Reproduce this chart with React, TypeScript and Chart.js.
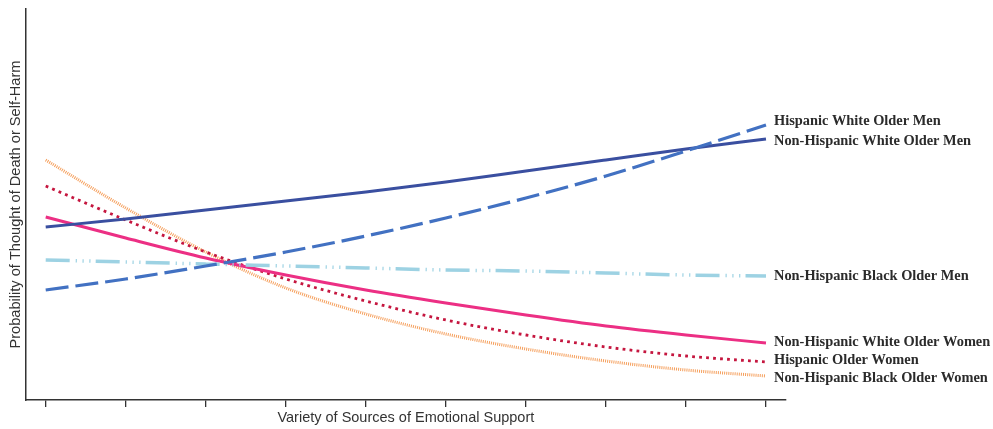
import React, { useEffect, useRef } from "react";
import { Chart, registerables } from "chart.js";

Chart.register(...registerables);

const xValues = [0, 1, 2, 3, 4, 5, 6, 7, 8, 9];
// Predicted probability (relative units)
const hispWhiteMen = [0.110, 0.121, 0.134, 0.148, 0.164, 0.182, 0.202, 0.224, 0.249, 0.275];
const nhWhiteMen = [0.173, 0.181, 0.190, 0.199, 0.208, 0.218, 0.229, 0.240, 0.251, 0.261];
const nhBlackMen = [0.140, 0.138, 0.136, 0.134, 0.132, 0.130, 0.129, 0.127, 0.125, 0.124];
const nhWhiteWomen = [0.183, 0.162, 0.142, 0.125, 0.110, 0.097, 0.085, 0.074, 0.065, 0.057];
const hispWomen = [0.214, 0.180, 0.148, 0.121, 0.099, 0.080, 0.065, 0.053, 0.044, 0.038];
const nhBlackWomen = [0.240, 0.192, 0.148, 0.112, 0.086, 0.066, 0.051, 0.039, 0.030, 0.024];

const seriesNames = [
  "Hispanic White Older Men",
  "Non-Hispanic White Older Men",
  "Non-Hispanic Black Older Men",
  "Non-Hispanic White Older Women",
  "Hispanic Older Women",
  "Non-Hispanic Black Older Women",
];
const labelOffsets = [-4, 2, 0, -1, -2, 2];

const yTitle = "Probability of Thought of Death or Self-Harm";
const xTitle = "Variety of Sources of Emotional Support";

export default function App() {
  const ref = useRef<HTMLCanvasElement | null>(null);
  useEffect(() => {
    if (!ref.current) return;
    const mk = (d: number[]) => d.map((v, i) => ({ x: xValues[i], y: v }));
    const labelPlugin = {
      id: "endLabels",
      afterDatasetsDraw(chart: any) {
        const ctx = chart.ctx;
        const xs = chart.scales.x;
        const ys = chart.scales.y;
        ctx.save();
        ctx.font = "bold 14.4px 'Liberation Serif', 'Times New Roman', serif";
        ctx.fillStyle = "#2b2b2b";
        ctx.textBaseline = "middle";
        ctx.textAlign = "left";
        chart.data.datasets.forEach((ds: any, i: number) => {
          const last = ds.data[ds.data.length - 1];
          const px = xs.getPixelForValue(last.x) + 8;
          const py = ys.getPixelForValue(last.y) + labelOffsets[i];
          ctx.fillText(seriesNames[i], px, py);
        });
        ctx.restore();
      },
    };
    const common = {
      fill: false,
      pointRadius: 0,
      cubicInterpolationMode: "monotone" as const,
      borderCapStyle: "butt" as const,
    };
    const chart = new Chart(ref.current, {
      type: "line",
      data: {
        datasets: [
          { ...common, label: seriesNames[0], data: mk(hispWhiteMen), borderColor: "#4271c2", borderWidth: 3.2, borderDash: [23, 7] },
          { ...common, label: seriesNames[1], data: mk(nhWhiteMen), borderColor: "#3a4fa0", borderWidth: 3 },
          { ...common, label: seriesNames[2], data: mk(nhBlackMen), borderColor: "#9dd2e3", borderWidth: 3.5, borderDash: [24, 6, 1.2, 5.6, 1.2, 5.6, 1.2, 5.2] },
          { ...common, label: seriesNames[3], data: mk(nhWhiteWomen), borderColor: "#ec2f84", borderWidth: 3 },
          { ...common, label: seriesNames[4], data: mk(hispWomen), borderColor: "#c5163f", borderWidth: 2.8, borderDash: [2.8, 4.2] },
          { ...common, label: seriesNames[5], data: mk(nhBlackWomen), borderColor: "#f59f5c", borderWidth: 3, borderDash: [1, 1.1] },
        ],
      },
      options: {
        animation: false,
        responsive: false,
        maintainAspectRatio: false,
        layout: { padding: { left: 0, top: 9, right: 207, bottom: 0 } },
        plugins: { legend: { display: false }, tooltip: { enabled: false } },
        scales: {
          x: {
            type: "linear",
            min: -0.25,
            max: 9.25,
            afterBuildTicks: (s: any) => {
              s.ticks = xValues.map((v) => ({ value: v }));
            },
            afterFit: (s: any) => {
              s.height = 29;
            },
            ticks: { display: true, callback: () => "", font: { size: 1 }, padding: 0 },
            grid: { drawOnChartArea: false, drawTicks: true, tickLength: 7, color: "#333", lineWidth: 1.3 },
            border: { display: true, color: "#333", width: 1.5 },
            title: {
              display: true,
              text: xTitle,
              color: "#333",
              font: { family: "'Liberation Sans', Arial, sans-serif", size: 14.5 },
              padding: { top: 0, bottom: 2 },
            },
          },
          y: {
            type: "linear",
            min: 0,
            max: 0.391,
            afterFit: (s: any) => {
              s.width = 25.7;
            },
            ticks: { display: false },
            grid: { display: false },
            border: { display: true, color: "#333", width: 1.5 },
            title: {
              display: true,
              text: yTitle,
              color: "#333",
              font: { family: "'Liberation Sans', Arial, sans-serif", size: 14.6 },
              padding: { top: 7, bottom: 0 },
            },
          },
        },
      },
      plugins: [labelPlugin],
    });
    return () => chart.destroy();
  }, []);
  return (
    <div style={{ position: "fixed", left: 0, top: 0, width: 993, height: 429, background: "#fff" }}>
      <canvas ref={ref} width={993} height={429} style={{ width: 993, height: 429 }} />
    </div>
  );
}
